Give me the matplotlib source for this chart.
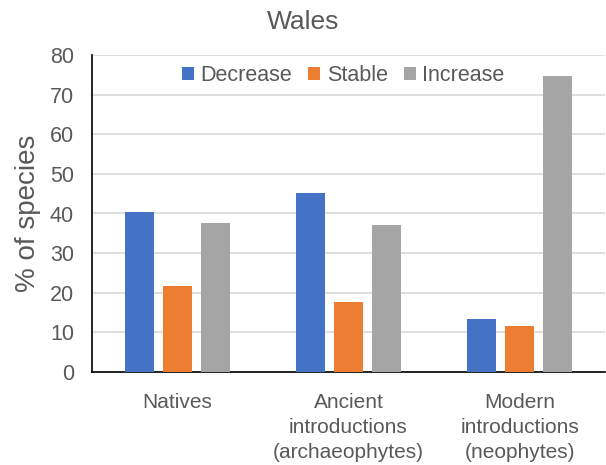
import numpy as np
import matplotlib.pyplot as plt

plt.rcParams['font.family'] = ['Liberation Sans', 'DejaVu Sans']

categories = ['Natives', 'Ancient\nintroductions\n(archaeophytes)', 'Modern\nintroductions\n(neophytes)']
series = ['Decrease', 'Stable', 'Increase']
decrease = [40.5, 45.2, 13.5]
stable = [21.7, 17.7, 11.7]
increase = [37.7, 37.0, 74.8]
colors = ['#4472C4', '#ED7D31', '#A5A5A5']

txt = '#595959'
fig = plt.figure(figsize=(6.06, 4.65), dpi=100)
ax = fig.add_axes([92/606, 1-372/465, 513/606, (372-55)/465])

x = np.arange(len(categories))
w = 0.17
step = 0.22
for i, (vals, name) in enumerate(zip([decrease, stable, increase], series)):
    ax.bar(x + (i-1)*step, vals, w, color=colors[i], label=name, zorder=3)

ax.set_xlim(-0.5, 2.5)
ax.set_ylim(0, 80)
ax.set_yticks(np.arange(0, 81, 10))
ax.yaxis.grid(True, color='#D9D9D9', linewidth=1.2, zorder=0)
ax.set_xticks(x)
ax.set_xticklabels(categories, fontsize=15, color=txt, linespacing=1.4)
ax.tick_params(axis='y', labelsize=15.5, labelcolor=txt, length=0, pad=13)
ax.tick_params(axis='x', length=0, pad=15)
for s in ['top', 'right']:
    ax.spines[s].set_visible(False)
ax.spines['left'].set_color('black')
ax.spines['bottom'].set_color('black')
ax.spines['left'].set_linewidth(1.2)
ax.spines['bottom'].set_linewidth(1.2)

ax.set_ylabel('% of species', fontsize=20, color=txt, labelpad=6)
fig.text(0.5, 1-22/465, 'Wales', ha='center', va='center', fontsize=19, color=txt)

ax.legend(loc='upper center', bbox_to_anchor=(0.49, 1.015), ncol=3, frameon=False,
          fontsize=15.5, labelcolor=txt, handlelength=0.55, handleheight=0.55,
          handletextpad=0.3, columnspacing=0.75, borderaxespad=0.3)

fig.savefig('out.png', dpi=100, facecolor='white')
